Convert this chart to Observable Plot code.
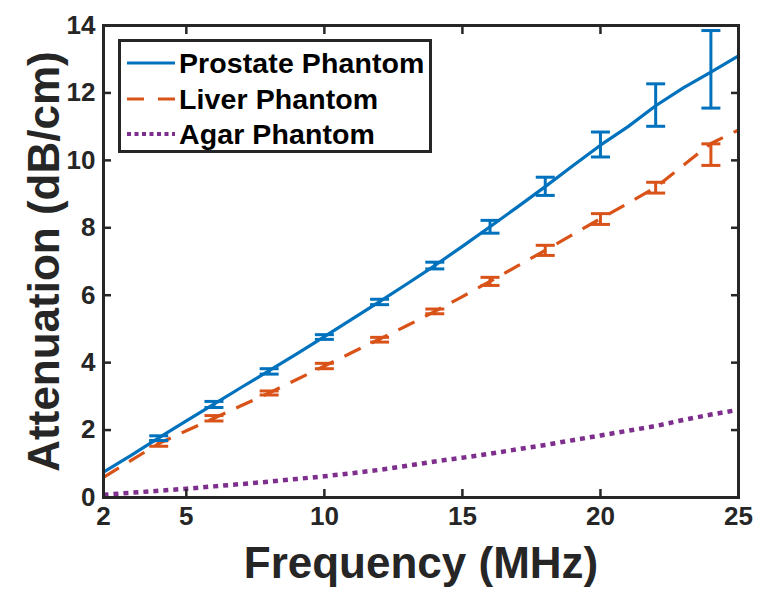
<!DOCTYPE html>
<html>
<head>
<meta charset="utf-8">
<script src="https://cdn.jsdelivr.net/npm/d3@7"></script>
<script src="https://cdn.jsdelivr.net/npm/@observablehq/plot@0.6"></script>
<style>
  html, body { margin: 0; padding: 0; background: #fff; }
  #wrap { position: relative; width: 773px; height: 594px; font-family: "Liberation Sans", Arial, sans-serif; }
  #legend { position: absolute; left: 118px; top: 39px; width: 308px; height: 108px; border: 3px solid #262626; background: #fff; }
  .row { position: absolute; left: 0; height: 30px; display: flex; align-items: center; }
  .row svg { margin-left: 6px; }
  .row span { font-weight: bold; font-size: 28.5px; color: #000; margin-left: 4px; letter-spacing: 0.1px; }
</style>
</head>
<body>
<div id="wrap"></div>
<script>
// ---- data ----
const freq = [2,3,4,5,6,7,8,9,10,11,12,13,14,15,16,17,18,19,20,21,22,23,24,25];
const prostate = [0.75,1.25,1.77,2.27,2.77,3.27,3.76,4.26,4.77,5.29,5.81,6.34,6.88,7.45,8.03,8.62,9.22,9.84,10.45,11.0,11.62,12.15,12.62,13.1];
const liver    = [0.6,1.1,1.6,1.98,2.35,2.73,3.1,3.5,3.9,4.3,4.7,5.1,5.52,5.96,6.41,6.87,7.33,7.8,8.27,8.73,9.2,9.85,10.5,10.9];
const agar     = [0.08,0.14,0.2,0.26,0.33,0.4,0.47,0.55,0.63,0.72,0.82,0.94,1.07,1.18,1.3,1.43,1.56,1.7,1.84,1.98,2.12,2.3,2.46,2.6];

const errFreq = [4,6,8,10,12,14,16,18,20,22,24];
const prostateMean = [1.76,2.76,3.74,4.76,5.8,6.88,8.03,9.23,10.47,11.64,12.7];
const prostateErr  = [0.07,0.09,0.08,0.07,0.08,0.1,0.19,0.27,0.37,0.63,1.15];
const liverMean = [1.6,2.35,3.1,3.9,4.68,5.52,6.41,7.33,8.26,9.19,10.17];
const liverErr  = [0.08,0.08,0.06,0.08,0.07,0.07,0.12,0.15,0.16,0.16,0.32];

const xTicks = [2,5,10,15,20,25];
const yTicks = [0,2,4,6,8,10,12,14];

const seriesNames = ["Prostate Phantom","Liver Phantom","Agar Phantom"];
const colors = {prostate: "#0072BD", liver: "#D95319", agar: "#7E2F8E"};

// ---- build tables ----
const lineP = freq.map((f,i) => ({f, v: prostate[i]}));
const lineL = freq.map((f,i) => ({f, v: liver[i]}));
const lineA = freq.map((f,i) => ({f, v: agar[i]}));
const errP = errFreq.map((f,i) => ({f, lo: prostateMean[i]-prostateErr[i], hi: prostateMean[i]+prostateErr[i]}));
const errL = errFreq.map((f,i) => ({f, lo: liverMean[i]-liverErr[i], hi: liverMean[i]+liverErr[i]}));

const capSymbol = { draw(ctx, size) { const w = 9.5; ctx.moveTo(-w, 0); ctx.lineTo(w, 0); } };

function errMarks(data, color) {
  return [
    Plot.ruleX(data, {x: "f", y1: "lo", y2: "hi", stroke: color, strokeWidth: 3}),
    Plot.dot(data, {x: "f", y: "lo", symbol: capSymbol, r: 5, stroke: color, strokeWidth: 3, fill: "none"}),
    Plot.dot(data, {x: "f", y: "hi", symbol: capSymbol, r: 5, stroke: color, strokeWidth: 3, fill: "none"})
  ];
}

const axisColor = "#262626";

const chart = Plot.plot({
  width: 773,
  height: 594,
  marginLeft: 103,
  marginRight: 35,
  marginTop: 25,
  marginBottom: 97,
  style: {fontFamily: "Liberation Sans, Arial, sans-serif", fontWeight: "bold", color: axisColor, background: "#fff"},
  x: {domain: [2, 25]},
  y: {domain: [0, 14]},
  marks: [
    Plot.line(lineA, {x: "f", y: "v", stroke: colors.agar, strokeWidth: 4.5, strokeDasharray: "5,5", strokeLinecap: "butt"}),
    Plot.line(lineL, {x: "f", y: "v", stroke: colors.liver, strokeWidth: 3.2, strokeDasharray: "18,12", strokeLinecap: "butt"}),
    ...errMarks(errL, colors.liver),
    Plot.line(lineP, {x: "f", y: "v", stroke: colors.prostate, strokeWidth: 3.2}),
    ...errMarks(errP, colors.prostate),
    // tick labels
    Plot.axisX(xTicks, {anchor: "bottom", tickSize: 0, tickPadding: 9, fontSize: 26, label: null, fill: axisColor}),
    Plot.axisY(yTicks, {anchor: "left", tickSize: 0, tickPadding: 8, fontSize: 26, label: null, fill: axisColor}),
    // inward ticks on all four sides
    Plot.axisX(xTicks, {anchor: "bottom", tickSize: -8, text: null, label: null, stroke: axisColor, strokeWidth: 2.5}),
    Plot.axisX(xTicks, {anchor: "top", tickSize: -8, text: null, label: null, stroke: axisColor, strokeWidth: 2.5}),
    Plot.axisY(yTicks, {anchor: "left", tickSize: -8, text: null, label: null, stroke: axisColor, strokeWidth: 2.5}),
    Plot.axisY(yTicks, {anchor: "right", tickSize: -8, text: null, label: null, stroke: axisColor, strokeWidth: 2.5}),
    Plot.frame({stroke: axisColor, strokeWidth: 3}),
    // axis titles
    Plot.text(["Frequency (MHz)"], {frameAnchor: "bottom", dy: 66, lineAnchor: "middle", textAnchor: "middle", fontSize: 44, fontWeight: "bold", fill: axisColor}),
    Plot.text(["Attenuation (dB/cm)"], {frameAnchor: "left", dx: -59, rotate: -90, lineAnchor: "middle", textAnchor: "middle", fontSize: 44, fontWeight: "bold", fill: axisColor})
  ]
});

const wrap = document.getElementById("wrap");
wrap.appendChild(chart);

// legend
const legend = document.createElement("div");
legend.id = "legend";
const legendStyles = [
  {color: colors.prostate, dash: null, width: 3.2},
  {color: colors.liver, dash: "17,14", width: 3.2},
  {color: colors.agar, dash: "4,3.5", width: 4}
];
const rowTops = [6, 42, 77];
seriesNames.forEach((name, i) => {
  const row = document.createElement("div");
  row.className = "row";
  row.style.top = rowTops[i] + "px";
  const s = legendStyles[i];
  row.innerHTML = `<svg width="48" height="10"><line x1="0" y1="5" x2="48" y2="5" stroke="${s.color}" stroke-width="${s.width}" ${s.dash ? `stroke-dasharray="${s.dash}"` : ""}/></svg><span>${name}</span>`;
  legend.appendChild(row);
});
wrap.appendChild(legend);
</script>
</body>
</html>
